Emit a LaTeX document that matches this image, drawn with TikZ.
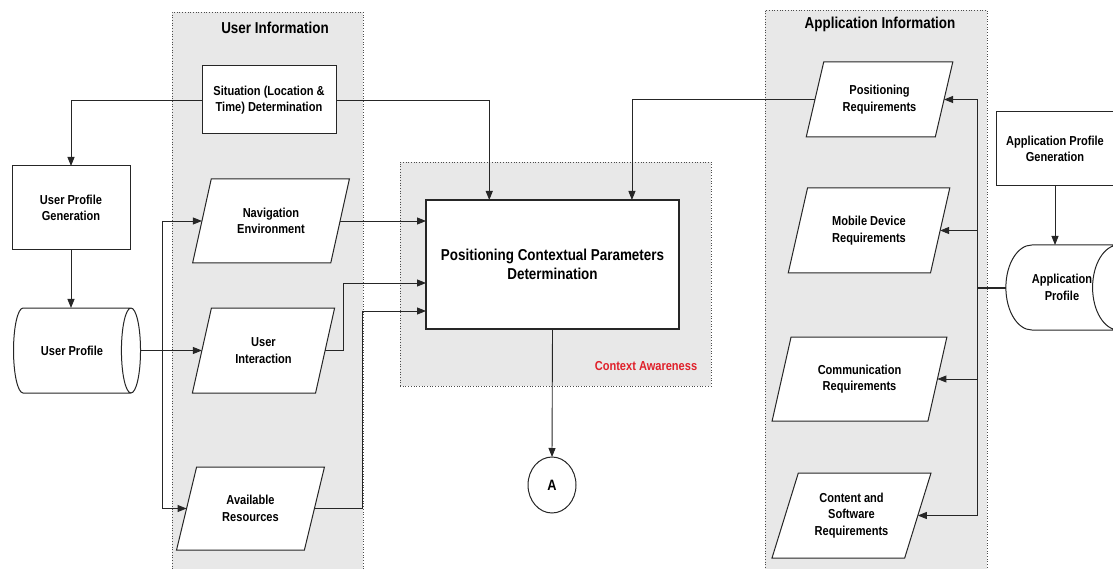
\documentclass[tikz,border=0pt]{standalone}
\usepackage{fontspec}
\setmainfont{Liberation Sans}
\newfontfamily\narrowsans[FakeStretch=0.85]{Liberation Sans}
\usetikzlibrary{shapes.geometric,arrows.meta,calc}
\definecolor{grpfill}{HTML}{E8E8E8}
\definecolor{linec}{HTML}{262626}
\definecolor{cared}{HTML}{E0202A}
\begin{document}
\begin{tikzpicture}[x=1pt,y=-1pt,
  grp/.style={draw=black!70, dotted, fill=grpfill, line width=0.7pt},
  ttl/.style={font=\narrowsans\bfseries\fontsize{15.8}{18}\selectfont, inner sep=0pt},
  nodefont/.style={font=\narrowsans\bfseries\fontsize{13}{16.5}\selectfont, align=center},
  box/.style={nodefont, draw=linec, fill=white, line width=1pt, inner sep=0pt, outer sep=0pt},
  para/.style={box, trapezium, trapezium left angle=68, trapezium right angle=112, trapezium stretches=true},
  drum/.style={box, cylinder, shape aspect=2.0},
  conn/.style={draw=linec, line width=0.9pt},
  arr/.style={conn, -{Triangle[length=9pt,width=7pt]}}
]
\useasboundingbox (0,0) rectangle (1113,569);
\clip (0,0) rectangle (1113,569);

% groups
\node[grp, minimum width=191, minimum height=563, inner sep=0pt] (gui) at (267.5,293.5) {};
\node[grp, minimum width=311, minimum height=224, inner sep=0pt] (gca) at (555.5,274) {};
\node[grp, minimum width=222, minimum height=565, inner sep=0pt] (gai) at (876,292.5) {};
\node[ttl] (tui) at (275,28) {User Information};
\node[ttl] (tai) at (880,24) {Application Information};
\node[font=\narrowsans\bfseries\fontsize{13}{15}\selectfont, text=cared, inner sep=0pt] (tca) at (646,366) {Context Awareness};

% left side
\node[box, minimum width=134, minimum height=68] (sit) at (269,100) {Situation (Location \&\\Time) Determination};
\node[box, minimum width=118, minimum height=84] (upg) at (71,208) {User Profile\\Generation};
\node[drum, minimum height=127, minimum width=85] (up) at (72,350.5) {User Profile};
\node[para, minimum width=158, minimum height=84] (nav) at (271,221) {Navigation\\Environment};
\node[para, minimum width=143, minimum height=85] (ui) at (263.5,350.5) {User\\Interaction};
\node[para, minimum width=149, minimum height=83] (ar) at (250.5,508.5) {Available\\Resources};

% centre
\node[box, line width=1.3pt, minimum width=253, minimum height=129, font=\narrowsans\bfseries\fontsize{15.8}{19}\selectfont] (pcp) at (552.5,264.5) {Positioning Contextual Parameters\\Determination};
\node[box, ellipse, minimum width=48, minimum height=56, font=\narrowsans\bfseries\fontsize{15}{17}\selectfont] (A) at (552,485) {A};

% right side
\node[para, minimum width=147, minimum height=75] (pr) at (879.5,99.5) {Positioning\\Requirements};
\node[para, minimum width=162, minimum height=85] (mdr) at (869,230.5) {Mobile Device\\Requirements};
\node[para, minimum width=175, minimum height=84] (cr) at (859.5,379) {Communication\\Requirements};
\node[para, minimum width=159, minimum height=85] (csr) at (851.5,515.5) {Content and\\Software\\Requirements};
\node[box, minimum width=118, minimum height=74] (apg) at (1055,149) {Application Profile\\Generation};
\node[drum, minimum height=132, minimum width=85] (ap) at (1062,287.5) {Application\\Profile};

% helper coordinates
\coordinate (busL) at (162,0);
\coordinate (busR) at (977,0);
\coordinate (j1) at (343,283);
\coordinate (j2) at (362,311);
\coordinate (pin1) at ($(pcp.north west)!0.25!(pcp.north east)$);
\coordinate (pin2) at ($(pcp.north west)!0.814!(pcp.north east)$);

% connectors left
\draw[arr] (sit.west) -| (upg.north);
\draw[arr] (sit.east) -| (pin1);
\draw[arr] (upg.south) -- (upg.south |- up.north);
\draw[arr] (up.east) -- (ui.left side);
\draw[conn] (busL |- nav.left side) -- (busL |- ar.left side);
\draw[arr] (busL |- nav.left side) -- (nav.left side);
\draw[arr] (busL |- ar.left side) -- (ar.left side);
\draw[arr] (nav.right side) -- (nav.right side -| pcp.west);
\draw[arr] (ui.right side) -| (j1) -- (j1 -| pcp.west);
\draw[arr] (ar.right side) -| (j2) -- (j2 -| pcp.west);
\draw[arr] (pcp.south) -- (A.north);

% connectors right
\draw[arr] (pr.left side) -| (pin2);
\draw[arr] (apg.south) -- (apg.south |- ap.north);
\draw[conn, line width=2pt] (ap.west) -- (busR |- ap.west);
\draw[conn] (busR |- pr.right side) -- (busR |- csr.right side);
\draw[arr] (busR |- pr.right side) -- (pr.right side);
\draw[arr] (busR |- mdr.right side) -- (mdr.right side);
\draw[arr] (busR |- cr.right side) -- (cr.right side);
\draw[arr] (busR |- csr.right side) -- (csr.right side);
\end{tikzpicture}
\end{document}
